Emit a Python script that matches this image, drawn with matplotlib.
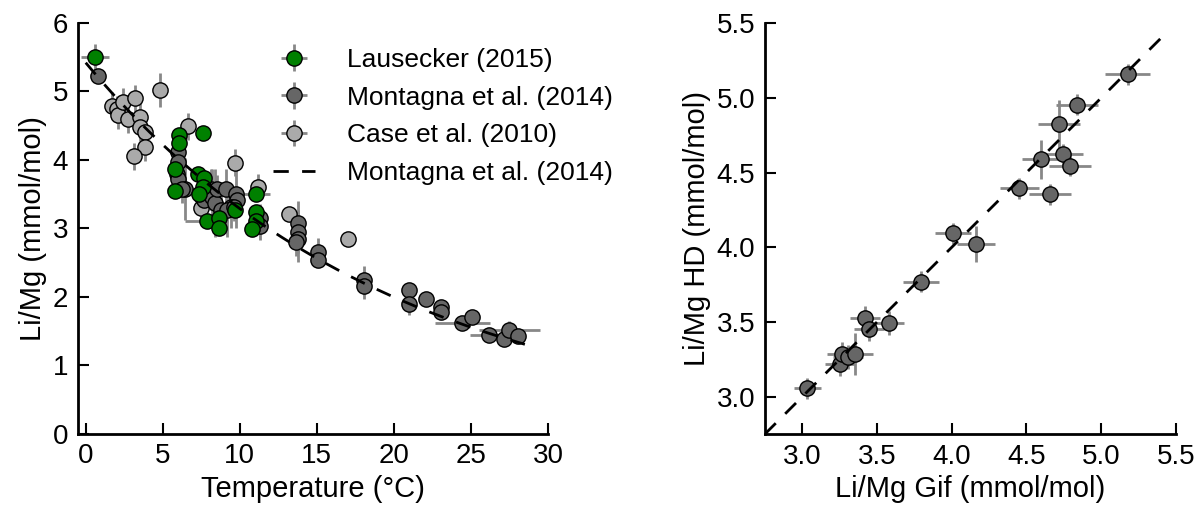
import numpy as np
import matplotlib.pyplot as plt
from matplotlib.ticker import FormatStrFormatter

plt.rcParams['font.family'] = ['Liberation Sans', 'DejaVu Sans']

# Lausecker (2015)
laus_t = [0.6, 6.05, 6.05, 5.8, 5.8, 7.6, 7.3, 7.67, 7.6, 7.35, 7.85, 8.65, 8.65, 9.67, 11.05, 11.05, 11.03, 10.82]
laus_y = [5.50, 4.36, 4.24, 3.86, 3.55, 4.39, 3.79, 3.74, 3.61, 3.50, 3.11, 3.15, 3.01, 3.27, 3.50, 3.24, 3.10, 2.99]
laus_xerr = [0.9, 0.3, 0.3, 0.3, 0.3, 0.3, 0.3, 0.3, 0.3, 0.3, 1.4, 0.3, 0.3, 0.3, 0.9, 0.3, 0.3, 0.3]
laus_yerr = [0.2, 0.1, 0.1, 0.1, 0.1, 0.1, 0.1, 0.1, 0.1, 0.1, 0.1, 0.1, 0.1, 0.1, 0.1, 0.1, 0.1, 0.1]

# Montagna et al. (2014) data
mont_t = [0.8, 6.0, 6.0, 5.95, 6.0, 6.43, 6.25, 7.56, 7.67, 8.1, 8.2, 8.42, 8.55, 9.1, 9.73, 9.8,
          9.4, 8.75, 9.2, 9.62, 11.3, 11.3, 13.75, 13.75, 13.75, 13.64, 15.05, 15.05, 18.09, 18.09,
          21.0, 21.0, 22.06, 23.08, 23.08, 24.45, 25.1, 26.19, 27.15, 27.5, 28.08]
mont_y = [5.22, 4.12, 3.97, 3.80, 3.72, 3.57, 3.57, 3.45, 3.41, 3.57, 3.46, 3.37, 3.58, 3.57, 3.50, 3.41,
          3.31, 3.27, 3.27, 3.31, 3.15, 3.03, 3.07, 2.95, 2.84, 2.80, 2.66, 2.53, 2.25, 2.16,
          2.10, 1.89, 1.96, 1.85, 1.78, 1.62, 1.70, 1.44, 1.38, 1.52, 1.43]
mont_xerr = [0.3, 0.3, 0.3, 0.3, 0.3, 0.3, 1.0, 0.3, 0.3, 0.3, 0.3, 0.3, 0.3, 0.3, 0.3, 0.3,
             0.3, 0.3, 0.3, 0.3, 0.3, 0.3, 0.3, 0.3, 0.3, 0.3, 0.3, 0.3, 0.3, 0.3,
             0.3, 0.3, 0.3, 0.3, 0.3, 1.8, 0.3, 1.25, 0.3, 1.95, 0.3]
mont_yerr = [0.1, 0.2, 0.2, 0.2, 0.2, 0.45, 0.2, 0.4, 0.2, 0.3, 0.4, 0.5, 0.2, 0.3, 0.5, 0.2,
             0.3, 0.3, 0.4, 0.2, 0.2, 0.2, 0.2, 0.45, 0.2, 0.2, 0.2, 0.1, 0.2, 0.2,
             0.1, 0.16, 0.1, 0.1, 0.1, 0.1, 0.1, 0.1, 0.1, 0.12, 0.1]

# Case et al. (2010)
case_t = [1.7, 2.0, 2.1, 2.4, 2.75, 3.2, 3.55, 3.55, 3.85, 3.85, 3.15, 4.8, 6.65, 9.7, 11.2, 7.5, 13.2, 17.05]
case_y = [4.79, 4.74, 4.65, 4.85, 4.59, 4.90, 4.63, 4.48, 4.40, 4.19, 4.05, 5.02, 4.49, 3.96, 3.60, 3.30, 3.21, 2.84]
case_xerr = [0.2] * len(case_t)
case_yerr = [0.2, 0.2, 0.2, 0.2, 0.2, 0.2, 0.2, 0.2, 0.2, 0.2, 0.2, 0.25, 0.2, 0.2, 0.2, 0.2, 0.0, 0.0]

# Montagna et al. (2014) calibration: Li/Mg = A * exp(-B * T)
fit_a, fit_b = 5.42, 0.050
fit_range = [0.0, 28.5]

# right panel: Gif vs HD
gif = [3.033, 3.252, 3.263, 3.308, 3.352, 3.419, 3.448, 3.582, 3.792, 4.010, 4.162,
       4.452, 4.597, 4.658, 4.747, 4.792, 4.718, 4.840, 5.178]
hd = [3.056, 3.217, 3.285, 3.263, 3.285, 3.524, 3.455, 3.495, 3.769, 4.093, 4.020,
      4.395, 4.589, 4.356, 4.622, 4.544, 4.825, 4.954, 5.158]
gif_err = [0.09, 0.1, 0.1, 0.1, 0.12, 0.1, 0.1, 0.1, 0.12, 0.12, 0.125,
           0.13, 0.13, 0.14, 0.13, 0.14, 0.14, 0.14, 0.15]
hd_err = [0.07, 0.08, 0.08, 0.08, 0.14, 0.08, 0.08, 0.08, 0.07, 0.07, 0.12,
          0.07, 0.13, 0.07, 0.07, 0.07, 0.16, 0.07, 0.07]

green = '#008000'
dark = '#666666'
light = '#aaaaaa'
ebar = '#888888'
style = dict(fmt='o', ms=11, mec='k', mew=1, ecolor=ebar, elinewidth=2, capsize=0)
dash = (0, (5.5, 4.8))

fig = plt.figure(figsize=(12.02, 5.14), dpi=100)
ax1 = fig.add_axes([0.0649, 0.1566, 0.391, 0.7986])
ax2 = fig.add_axes([0.6364, 0.1556, 0.3419, 0.7993])

# left panel
h_case = ax1.errorbar(case_t, case_y, xerr=case_xerr, yerr=case_yerr, mfc=light,
                      label='Case et al. (2010)', **style)
h_mont = ax1.errorbar(mont_t, mont_y, xerr=mont_xerr, yerr=mont_yerr, mfc=dark,
                      label='Montagna et al. (2014)', **style)
h_laus = ax1.errorbar(laus_t, laus_y, xerr=laus_xerr, yerr=laus_yerr, mfc=green,
                      label='Lausecker (2015)', **style)
tt = np.linspace(fit_range[0], fit_range[1], 200)
h_fit, = ax1.plot(tt, fit_a * np.exp(-fit_b * tt), color='k', lw=2,
                  linestyle=dash, label='Montagna et al. (2014)', zorder=5)

ax1.set_xlim(-0.5, 30)
ax1.set_ylim(0, 6)
ax1.set_xticks(range(0, 31, 5))
ax1.set_yticks(range(0, 7))
ax1.set_xlabel('Temperature (°C)', fontsize=21)
ax1.set_ylabel('Li/Mg (mmol/mol)', fontsize=21)
ax1.legend([h_laus, h_mont, h_case, h_fit],
           ['Lausecker (2015)', 'Montagna et al. (2014)', 'Case et al. (2010)', 'Montagna et al. (2014)'],
           loc='upper left', bbox_to_anchor=(0.381, 0.978), frameon=False, fontsize=19,
           handlelength=1.6, handletextpad=1.2, labelspacing=0.52, borderaxespad=0.2)

# right panel
ax2.plot([2.75, 5.42], [2.75, 5.42], color='k', lw=2, linestyle=dash, zorder=5)
ax2.errorbar(gif, hd, xerr=gif_err, yerr=hd_err, mfc=dark, **style)
ax2.set_xlim(2.75, 5.5)
ax2.set_ylim(2.75, 5.5)
ax2.set_xticks(np.arange(3.0, 5.51, 0.5))
ax2.set_yticks(np.arange(3.0, 5.51, 0.5))
ax2.xaxis.set_major_formatter(FormatStrFormatter('%.1f'))
ax2.yaxis.set_major_formatter(FormatStrFormatter('%.1f'))
ax2.set_xlabel('Li/Mg Gif (mmol/mol)', fontsize=21)
ax2.set_ylabel('Li/Mg HD (mmol/mol)', fontsize=21)

for ax in (ax1, ax2):
    ax.spines['top'].set_visible(False)
    ax.spines['right'].set_visible(False)
    ax.spines['left'].set_linewidth(2)
    ax.spines['bottom'].set_linewidth(2)
    ax.tick_params(direction='in', length=8, width=1.5, labelsize=20, pad=7)

fig.savefig('out.png', dpi=100)
plt.close()
